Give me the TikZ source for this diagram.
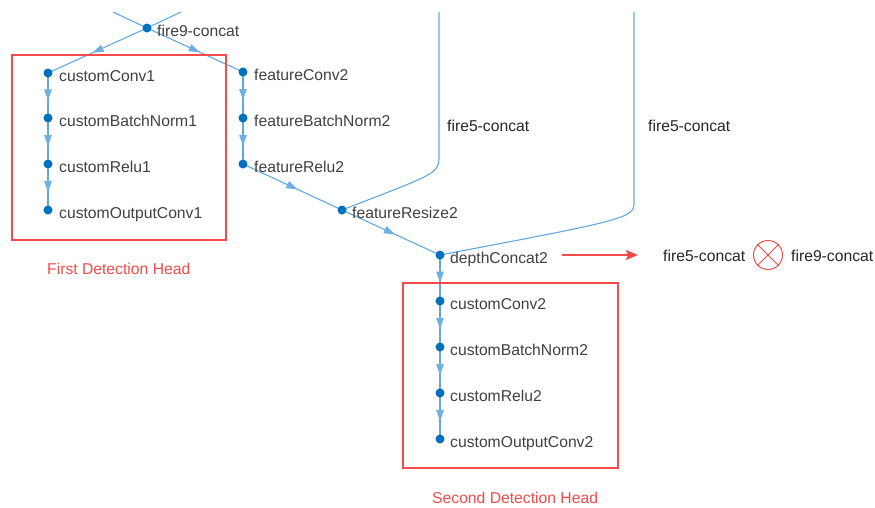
\documentclass[tikz,border=0pt]{standalone}
\usepackage{fontspec}
\setmainfont{Liberation Sans}
\usetikzlibrary{arrows.meta,decorations.markings,backgrounds}
\definecolor{dotblue}{HTML}{0072BD}
\definecolor{edgeblue}{HTML}{62A8DE}
\definecolor{tipblue}{HTML}{6FB0E2}
\definecolor{txtgray}{HTML}{404040}
\definecolor{redbox}{HTML}{F44A4A}
\begin{document}
\begin{tikzpicture}[x=1pt,y=-1pt,
  font=\fontsize{15.7}{18}\selectfont,
  dot/.style={circle,fill=dotblue,inner sep=0pt,minimum size=9pt},
  lbl/.style={anchor=base west,text=txtgray,inner sep=0pt},
  redlbl/.style={anchor=base west,text=redbox,inner sep=0pt},
  edge/.style={draw=edgeblue,line width=1.1pt},
  marr/.style={edge,postaction={decorate},decoration={markings,mark=at position #1 with {\arrow{Triangle[width=7.5pt,length=11pt,color=tipblue]}}}},
  headbox/.style={draw=redbox,line width=1.2pt}
]
\useasboundingbox (0,0) rectangle (875,507);
% nodes (dots)
\node[dot] (f9) at (147,28) {};
\node[dot] (cc1) at (48,73) {};
\node[dot] (cb1) at (48,118) {};
\node[dot] (cr1) at (48,164) {};
\node[dot] (co1) at (48,210) {};
\node[dot] (fc2) at (243,72) {};
\node[dot] (fb2) at (243,118) {};
\node[dot] (fr2) at (243,164) {};
\node[dot] (fz2) at (342,210) {};
\node[dot] (dc2) at (440,255) {};
\node[dot] (cc2) at (440,301) {};
\node[dot] (cb2) at (440,347) {};
\node[dot] (cr2) at (440,393) {};
\node[dot] (co2) at (440,439) {};
% free ends at the top
\coordinate (tl) at (113,12);
\coordinate (tr) at (181,12);
\coordinate (f5a) at (439,12);
\coordinate (f5b) at (634,12);
% labels
\node[lbl] (f9l) at (157,36.5) {fire9-concat};
\node[lbl] (cc1l) at (59,81.5) {customConv1};
\node[lbl] (cb1l) at (59,126.5) {customBatchNorm1};
\node[lbl] (cr1l) at (59,172.5) {customRelu1};
\node[lbl] (co1l) at (59,218.5) {customOutputConv1};
\node[lbl] (fc2l) at (254,80.5) {featureConv2};
\node[lbl] (fb2l) at (254,126.5) {featureBatchNorm2};
\node[lbl] (fr2l) at (254,172.5) {featureRelu2};
\node[lbl] (fz2l) at (352,218.5) {featureResize2};
\node[lbl] (dc2l) at (450,263.5) {depthConcat2};
\node[lbl] (cc2l) at (450,309.5) {customConv2};
\node[lbl] (cb2l) at (450,355.5) {customBatchNorm2};
\node[lbl] (cr2l) at (450,401.5) {customRelu2};
\node[lbl] (co2l) at (450,447.5) {customOutputConv2};
\node[lbl,text=black!85] (f5l1) at (447,131.5) {fire5-concat};
\node[lbl,text=black!85] (f5l2) at (648,131.5) {fire5-concat};
% edges
\begin{scope}[on background layer]
\draw[edge] (tl) -- (f9.center);
\draw[edge] (tr) -- (f9.center);
\draw[marr=0.55] (f9.center) -- (cc1.center);
\draw[marr=0.55] (f9.center) -- (fc2.center);
\draw[marr=0.61] (cc1.center) -- (cb1.center);
\draw[marr=0.61] (cb1.center) -- (cr1.center);
\draw[marr=0.61] (cr1.center) -- (co1.center);
\draw[marr=0.61] (fc2.center) -- (fb2.center);
\draw[marr=0.61] (fb2.center) -- (fr2.center);
\draw[marr=0.55] (fr2.center) -- (fz2.center);
\draw[marr=0.54] (fz2.center) -- (dc2.center);
\draw[edge] (f5a) -- (439,158) .. controls (439,174) and (432,175) .. (fz2.center);
\draw[edge] (f5b) -- (634,203) .. controls (634,218) and (625,220) .. (dc2.center);
\draw[marr=0.6] (dc2.center) -- (cc2.center);
\draw[marr=0.61] (cc2.center) -- (cb2.center);
\draw[marr=0.61] (cb2.center) -- (cr2.center);
\draw[marr=0.61] (cr2.center) -- (co2.center);
\end{scope}
% detection heads
\draw[headbox] (12,55) rectangle (226,240);
\node[redlbl] (h1) at (47,274) {First Detection Head};
\draw[headbox] (403,283) rectangle (618,468);
\node[redlbl] (h2) at (432,503) {Second Detection Head};
% formula
\coordinate (ra) at (562,255);
\node[lbl,text=black!85] (ft5) at (663,261) {fire5-concat};
\node[circle,draw=redbox,line width=1pt,minimum size=29pt,inner sep=0pt] (ox) at (768,255) {};
\draw[redbox,line width=1pt] (ox.45) -- (ox.225) (ox.135) -- (ox.315);
\node[lbl,text=black!85] (ft9) at (791,261) {fire9-concat};
\draw[redbox,line width=1.3pt,-{Stealth[length=12pt,width=10pt,inset=2pt]}] (ra) -- (638,255);
\end{tikzpicture}
\end{document}
